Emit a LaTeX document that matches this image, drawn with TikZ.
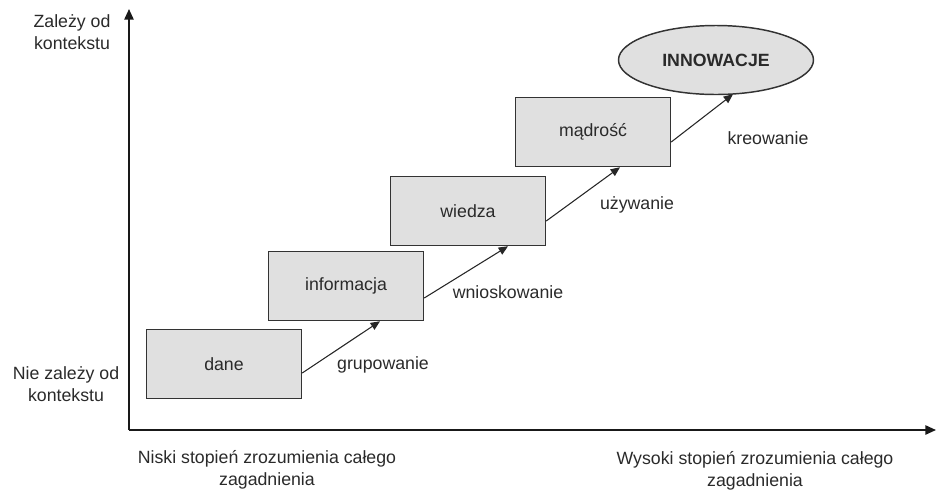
\documentclass[tikz,border=0pt]{standalone}
\usepackage{fontspec}
\setmainfont{Liberation Sans}
\usetikzlibrary{arrows.meta,calc,shapes.geometric}
\definecolor{boxfill}{HTML}{E0E0E0}
\definecolor{boxline}{HTML}{333333}
\definecolor{txt}{HTML}{2A2A2A}
\begin{document}
\begin{tikzpicture}[x=0.75pt,y=-0.75pt,
  every node/.style={font=\fontsize{13.3}{16.5}\selectfont, text=txt},
  stepbox/.style={draw=boxline, line width=1.1pt, fill=boxfill, rectangle, minimum width=155*0.75pt, minimum height=69*0.75pt, inner sep=0pt},
  goal/.style={draw=boxline, line width=1.1pt, fill=boxfill, ellipse, minimum width=195*0.75pt, minimum height=69*0.75pt, inner sep=0pt},
  flow/.style={draw=black!85, line width=0.8pt, -{Triangle[length=7pt,width=6pt]}},
  axis/.style={draw=black!90, line width=1.2pt, -{Triangle[length=8pt,width=7pt]}},
  lbl/.style={align=center}
]
\useasboundingbox (0,0) rectangle (936,490);
% axes
\coordinate (origin) at (129,430);
\coordinate (ytop) at (129,9);
\coordinate (xend) at (936,430);
\draw[axis] (origin) -- (ytop);
\draw[axis] (origin) -- (xend);
% boxes
\node[stepbox] (dane) at (224,364) {dane};
\node[stepbox] (informacja) at (346,286) {informacja};
\node[stepbox] (wiedza) at (468,211) {wiedza};
\node[stepbox] (madrosc) at (593,132) {mądrość};
\node[goal] (innow) at (716,60) {\bfseries INNOWACJE};
% arrows
\draw[flow] ($(dane.east)+(0,9)$) -- ($(informacja.south)+(34,0)$);
\draw[flow] ($(informacja.east)+(0,12)$) -- ($(wiedza.south)+(40,0)$);
\draw[flow] ($(wiedza.east)+(0,10)$) -- ($(madrosc.south)+(27,0)$);
\draw[flow] ($(madrosc.east)+(0,10)$) -- ($(innow.south)+(17,-1)$);
% arrow labels
\node (l1) at (383,365) {grupowanie};
\node (l2) at (508,292) {wnioskowanie};
\node (l3) at (637,205) {używanie};
\node (l4) at (768,138) {kreowanie};
% axis labels
\node[lbl] (ya) at (72,32) {Zależy od\\kontekstu};
\node[lbl] (yb) at (66,384) {Nie zależy od\\kontekstu};
\node[lbl] (xa) at (267,470) {Niski stopień zrozumienia całego\\zagadnienia};
\node[lbl] (xb) at (755,471) {Wysoki stopień zrozumienia całego\\zagadnienia};
\end{tikzpicture}
\end{document}
